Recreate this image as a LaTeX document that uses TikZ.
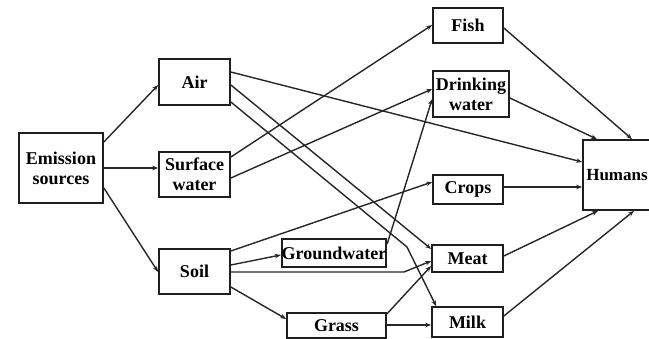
\documentclass[tikz,border=0pt]{standalone}
\usepackage{fontspec}
\setmainfont{Liberation Serif}
\usetikzlibrary{arrows.meta}
\begin{document}
\begin{tikzpicture}[x=1pt,y=-1pt,
  box/.style={draw=black!88, line width=1.7pt, fill=white, inner sep=0pt, align=center,
    font=\bfseries\fontsize{18}{20}\selectfont},
  flow/.style={draw=black!85, line width=1.4pt, -{Stealth[length=6pt,width=4.5pt]}}]
\useasboundingbox (0,0) rectangle (649,339);

% compartments
\node[box, minimum width=84pt, minimum height=70pt] (em)    at (61,168)    {Emission\\sources};
\node[box, minimum width=71pt, minimum height=46pt] (air)   at (194.5,82)  {Air};
\node[box, minimum width=71pt, minimum height=45pt] (sw)    at (194.5,174.5) {Surface\\water};
\node[box, minimum width=71pt, minimum height=45pt] (soil)  at (194.5,271.5) {Soil};
\node[box, minimum width=104pt, minimum height=28pt] (gw)   at (334,253)   {Groundwater};
\node[box, minimum width=99pt, minimum height=25pt] (grass) at (336.5,325.5) {Grass};
\node[box, minimum width=70pt, minimum height=35pt] (fish)  at (468,25.5)  {Fish};
\node[box, minimum width=76pt, minimum height=46pt] (dw)    at (471,94)    {Drinking\\water};
\node[box, minimum width=70pt, minimum height=29pt] (crops) at (468,189.5) {Crops};
\node[box, minimum width=71pt, minimum height=27pt] (meat)  at (467.5,258.5) {Meat};
\node[box, minimum width=71pt, minimum height=30pt] (milk)  at (467.5,322)  {Milk};
\node[box, minimum width=68pt, minimum height=70pt,
      font=\bfseries\fontsize{17}{20}\selectfont] (humans) at (617,175)  {Humans};

% bends in routed connectors
\coordinate (airmilkbend) at (407,247);
\coordinate (soilmeatbend) at (404,272);

% emission to the primary media
\draw[flow] (em.east |- 0,142) -- (air.west |- 0,85);
\draw[flow] (em.east |- 0,168) -- (sw.west |- 0,168);
\draw[flow] (em.east |- 0,188) -- (soil.west |- 0,272);

% from air
\draw[flow] (air.east |- 0,72) -- (humans.west |- 0,162);
\draw[flow] (air.east |- 0,85) -- (meat.west |- 0,249);
\draw[flow] (air.east |- 0,102) -- (airmilkbend) -- ([xshift=5pt]milk.north west);

% from surface water
\draw[flow] (sw.east |- 0,157) -- (fish.west |- 0,25);
\draw[flow] (sw.east |- 0,178) -- (dw.west |- 0,89);

% from soil
\draw[flow] (soil.east |- 0,251) -- (crops.west |- 0,182);
\draw[flow] (soil.east |- 0,265) -- (gw.west |- 0,255);
\draw[flow] (soil.east |- 0,272) -- (soilmeatbend) -- (meat.west |- 0,261);
\draw[flow] (soil.east |- 0,287) -- (grass.west |- 0,319);

% groundwater and grass
\draw[flow] (gw.east |- 0,244) -- (dw.west |- 0,99);
\draw[flow] (grass.east |- 0,314) -- (meat.west |- 0,266);
\draw[flow] (grass.east |- 0,325) -- (milk.west |- 0,325);

% exposure routes to humans
\draw[flow] (fish.east |- 0,28) -- (humans.north -| 632,0);
\draw[flow] (dw.east |- 0,98) -- (humans.north -| 597,0);
\draw[flow] (crops.east |- 0,187) -- (humans.west |- 0,187);
\draw[flow] (meat.east |- 0,256) -- (humans.south -| 598,0);
\draw[flow] (milk.east |- 0,316) -- (humans.south -| 634,0);
\end{tikzpicture}
\end{document}
